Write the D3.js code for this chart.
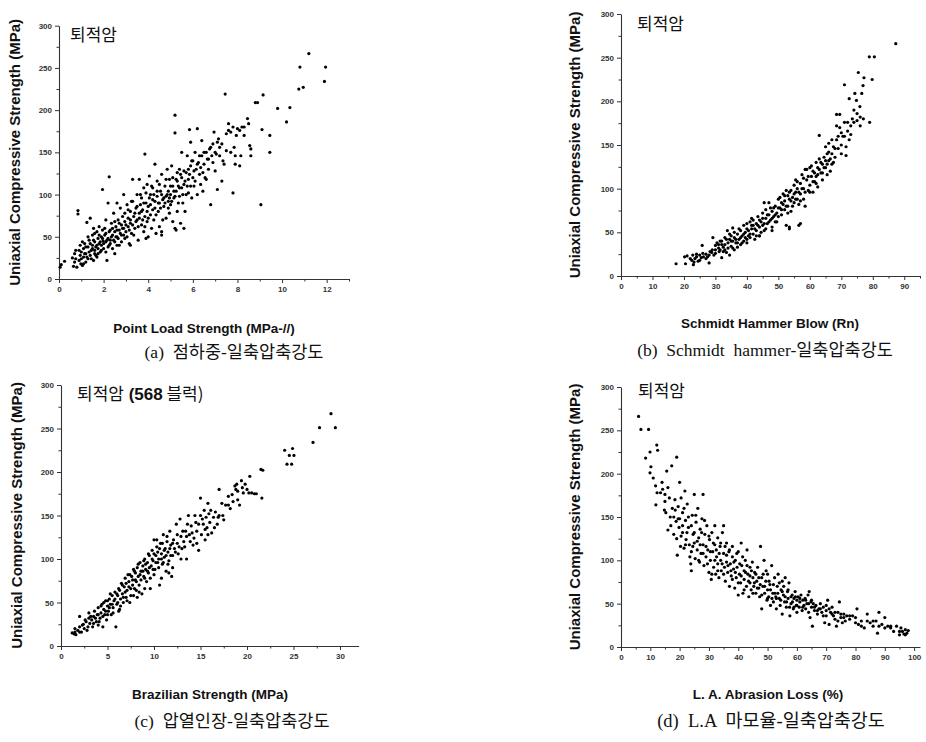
<!DOCTYPE html>
<html>
<head>
<meta charset="utf-8">
<script src="https://cdn.jsdelivr.net/npm/d3@7"></script>
<style>
  body { margin: 0; background: #fff; }
  svg { display: block; }
</style>
</head>
<body>
<svg id="chart" width="926" height="742"></svg>
<script>
// values: [x, UCS (MPa)]
const pointLoad = [
  [0.05,14],[0.1,17],[0.25,21],[0.6,25],[0.65,15],[0.7,30],[0.75,34],[0.8,14],[0.85,81],[0.85,77],[0.9,22],[0.95,28],[0.95,40],[0.98,18],
  [1.0,32],[1.05,16],[1.1,36],[1.1,26],[1.15,42],[1.2,20],[1.2,30],[1.25,67],[1.3,24],[1.3,38],[1.35,46],[1.4,72],[1.4,28],[1.45,34],[1.5,52],[1.5,40],[1.55,22],[1.55,60],[1.6,44],[1.6,30],[1.65,38],[1.7,56],[1.7,26],[1.75,48],[1.75,36],[1.8,42],[1.8,62],[1.85,32],[1.9,50],[1.9,40],[1.95,106],[1.95,58],[1.98,45],
  [2.0,36],[2.05,52],[2.1,44],[2.1,70],[2.15,22],[2.2,48],[2.2,90],[2.25,121],[2.25,40],[2.3,58],[2.3,46],[2.35,66],[2.4,52],[2.4,36],[2.45,78],[2.5,56],[2.5,44],[2.55,62],[2.6,50],[2.6,90],[2.65,70],[2.7,58],[2.7,40],[2.75,84],[2.8,64],[2.8,52],[2.85,74],[2.9,60],[2.9,100],[2.95,48],[2.95,68],
  [3.0,56],[3.05,88],[3.1,72],[3.1,62],[3.15,42],[3.2,80],[3.2,66],[3.25,54],[3.3,118],[3.3,92],[3.35,74],[3.4,60],[3.45,84],[3.5,100],[3.5,70],[3.55,46],[3.6,78],[3.6,118],[3.65,88],[3.7,64],[3.7,96],[3.75,82],[3.8,56],[3.8,108],[3.85,148],[3.85,74],[3.9,90],[3.9,48],[3.95,68],[3.95,112],
  [4.0,86],[4.05,122],[4.1,100],[4.1,76],[4.15,60],[4.2,94],[4.2,108],[4.25,70],[4.3,136],[4.3,84],[4.35,54],[4.4,98],[4.4,116],[4.45,80],[4.5,90],[4.5,62],[4.55,104],[4.6,124],[4.6,52],[4.65,94],[4.7,86],[4.75,110],[4.8,98],[4.8,72],[4.85,130],[4.9,92],[4.9,104],[4.95,78],[4.95,118],
  [5.0,100],[5.0,88],[5.05,134],[5.1,110],[5.1,68],[5.15,96],[5.2,194],[5.2,173],[5.2,60],[5.25,104],[5.3,126],[5.3,116],[5.35,90],[5.4,108],[5.4,130],[5.45,66],[5.5,120],[5.5,150],[5.55,100],[5.6,112],[5.65,80],[5.7,126],[5.75,146],[5.8,118],[5.8,102],[5.85,177],[5.9,134],[5.9,162],[5.95,96],[5.95,140],
  [6.0,120],[6.05,110],[6.1,150],[6.15,130],[6.2,178],[6.2,100],[6.25,138],[6.3,124],[6.35,112],[6.4,146],[6.4,164],[6.45,104],[6.5,136],[6.55,120],[6.6,150],[6.65,142],[6.7,130],[6.75,154],[6.8,88],[6.85,146],[6.9,160],[6.95,174],[7.0,128],
  [7.05,148],[7.1,106],[7.15,166],[7.2,156],[7.3,116],[7.35,140],[7.4,136],[7.45,219],[7.5,152],[7.6,184],[7.6,176],[7.7,174],[7.8,102],[7.85,156],[7.9,136],[7.9,146],[7.95,170],
  [8.0,178],[8.1,134],[8.15,146],[8.2,180],[8.3,180],[8.45,190],[8.5,184],[8.55,158],[8.6,154],[8.6,146],[8.8,209],[8.9,209],[9.05,88],[9.1,177],[9.15,218],
  [9.45,170],[9.45,150],[9.8,202],[10.2,186],[10.35,203],[10.75,225],[10.8,251],[10.95,227],[11.2,267],[11.9,234],[11.95,251],
  [0.7,20],[0.75,24],[0.9,34],[1.0,24],[1.05,44],[1.1,18],[1.15,30],[1.2,38],[1.25,26],[1.3,50],[1.35,32],[1.4,42],[1.45,24],[1.5,36],[1.55,46],[1.6,34],[1.6,54],[1.65,28],[1.7,40],[1.75,30],[1.8,52],[1.85,44],[1.9,34],[1.95,48],
  [2.0,42],[2.05,60],[2.1,32],[2.1,54],[2.15,46],[2.2,38],[2.25,56],[2.3,42],[2.35,50],[2.4,60],[2.45,46],[2.5,68],[2.55,50],[2.6,40],[2.6,58],[2.65,48],[2.7,66],[2.75,54],[2.8,44],[2.85,60],[2.9,52],[2.95,78],
  [3.0,64],[3.05,50],[3.1,82],[3.15,58],[3.2,70],[3.25,92],[3.3,64],[3.35,52],[3.4,78],[3.45,68],[3.5,86],[3.55,62],[3.6,72],[3.65,100],[3.7,80],[3.75,70],[3.8,90],[3.85,62],[3.9,102],[3.95,80],
  [4.0,72],[4.05,96],[4.1,88],[4.15,110],[4.2,82],[4.25,100],[4.3,92],[4.35,76],[4.4,104],[4.45,90],[4.5,112],[4.55,84],[4.6,100],[4.65,70],[4.7,96],[4.75,90],[4.8,118],[4.85,100],[4.9,84],[4.95,96],
  [5.0,110],[5.05,92],[5.1,120],[5.15,104],[5.2,98],[5.25,118],[5.3,80],[5.35,110],[5.4,98],[5.45,124],[5.5,108],[5.55,90],[5.6,128],[5.65,116],[5.7,100],[5.75,110],[5.8,130],[5.85,124],[5.9,110],
  [6.0,140],[6.05,128],[6.1,116],[6.2,136],[6.3,146],[6.35,132],[6.45,126],[6.5,150],[6.6,118],[6.7,142],[6.8,156],[6.9,138],[7.0,150],[7.1,162],[7.2,146],[7.3,160],[7.5,172],[7.7,150],[7.8,180],[8.1,176],[8.3,170],
  [5.6,60],[4.0,50],[3.2,40],[2.5,30],[4.6,56],[5.25,58]
];
const schmidt = [
  [17.5,14],[20.2,22],[20.5,14],[21,23],[22.5,18],[22.8,24],[23,13],[23.2,16],[23.5,20],[24,22],[24.5,17],[25,24],[25.5,21],[25.8,35],[26.2,22],[27,25],[27.5,22],[28,15],[28.3,28],[28.8,27],[29.2,44],[29.5,24],[30,30],[30,35],
  [30.5,38],[31,32],[31.2,28],[31.5,40],[32,21],[32,36],[32.5,33],[33,44],[33,30],[33.5,27],[33.8,52],[34,38],[34.5,42],[34.5,24],[35,34],[35,46],[35.5,40],[35.5,55],[36,30],[36,44],[36.5,38],[37,48],[37,33],[37.5,42],[38,36],[38,52],[38.5,46],[39,40],[39,58],[39.5,50],[40,38],[40,54],
  [40.5,46],[41,62],[41,44],[41.5,54],[41.5,66],[42,48],[42,58],[42.5,42],[43,60],[43,52],[43.5,68],[44,56],[44,46],[44.5,62],[45,58],[45,72],[45.5,52],[45.5,84],[46,66],[46,76],[46.5,60],[47,70],[47,84],[47.5,64],[48,74],[48,56],[48.5,68],[49,80],[49,62],[49.5,72],[50,88],[50,68],
  [50.5,78],[51,84],[51,70],[51.5,94],[52,76],[52,86],[52.5,98],[52.5,58],[53,80],[53,92],[53.5,54],[53.5,88],[54,98],[54,74],[54.5,90],[55,104],[55,84],[55.5,96],[55.5,110],[56,88],[56,100],[56.5,82],[56.5,58],[57,106],[57,94],[57.5,116],[58,100],[58,88],[58.5,122],[58.5,80],[59,110],[59.5,98],[60,104],[60,124],
  [60.5,114],[61,96],[61,120],[61.5,108],[62,130],[62,114],[62.5,102],[62.5,124],[63,161],[63,134],[63.5,118],[64,128],[64,110],[64.5,136],[65,124],[65,148],[65.5,140],[65.5,116],[66,132],[66,152],[66.5,120],[67,140],[67,156],[67.5,130],[68,146],[68.5,172],[68.5,185],[69,160],[69.5,185],[70,150],[70,140],
  [70.5,160],[71,219],[71,176],[71.5,138],[71.5,148],[72,166],[72.5,156],[72.5,203],[73,172],[73.5,180],[74,190],[74.3,209],[74.8,201],[75,178],[75.4,233],[75.9,194],[76,182],[76.5,209],[76.9,218],[77.2,227],[79,176],[78.9,251],[79.8,225],[80.5,251],[87.3,266],
  [22,20],[24,25],[25,18],[26,26],[27,20],[28,24],[29,30],[30,26],[31,36],[31.5,30],[32,40],[32.5,28],[33,36],[33.5,42],[34,32],[34.5,48],[35,40],[35.5,32],[36,50],[36.5,42],[37,38],[37.5,54],[38,44],[38.5,38],[39,48],[39.5,44],
  [40,60],[40.5,52],[41,48],[41.5,58],[42,64],[42.5,54],[43,46],[43.5,58],[44,64],[44.5,50],[45,66],[45.5,60],[46,54],[46.5,70],[47,62],[47.5,78],[48,66],[48.5,78],[49,70],[49.5,62],
  [50,78],[50.5,90],[51,76],[51.5,82],[52,92],[52.5,80],[53,72],[53.5,96],[54,86],[54.5,80],[55,94],[55.5,88],[56,108],[56.5,96],[57,86],[57.5,100],[58,112],[58.5,96],[59,122],[59.5,114],
  [60,96],[60.5,126],[61,108],[61.5,118],[62,106],[62.5,116],[63,122],[63.5,130],[64,118],[64.5,124],[65,132],[65.5,128],[66,142],[66.5,134],[67,128],[67.5,148],[68,136],[68.5,156],[69,146],[69.5,170],
  [70,164],[71,160],[72,176],[73,162],[74,176],[75,186],[76,172],[77,180],[53.5,56],[57,60],[48,52],[44,46],[40,42]
];
const brazilian = [
  [1.2,15],[1.4,14],[1.5,16],[1.6,13],[1.8,18],[2.0,34],[2.0,22],[2.2,16],[2.4,25],[2.5,20],[2.7,28],[2.8,18],[3.0,38],[3.0,32],[3.1,26],[3.3,30],[3.4,22],[3.5,34],[3.6,40],[3.8,28],[3.9,36],[4.0,44],[4.0,24],[4.2,32],[4.3,38],[4.4,48],[4.5,22],[4.6,42],[4.7,36],[4.8,52],[4.9,30],[5.0,46],
  [5.1,40],[5.2,54],[5.3,48],[5.4,36],[5.5,58],[5.6,44],[5.7,52],[5.8,62],[5.9,22],[6.0,48],[6.1,58],[6.2,66],[6.3,42],[6.4,54],[6.5,72],[6.6,60],[6.7,50],[6.8,68],[6.9,78],[7.0,56],[7.1,64],[7.2,82],[7.3,74],[7.4,50],[7.5,66],[7.6,80],[7.7,70],[7.8,58],[7.9,86],[8.0,76],[8.1,64],[8.2,90],[8.3,80],[8.4,70],[8.5,96],[8.6,86],[8.7,60],[8.8,92],[8.9,80],[9.0,100],[9.1,88],[9.2,74],[9.3,96],[9.4,84],[9.5,104],[9.6,66],[9.7,92],[9.8,110],[9.9,98],[10.0,122],
  [10.1,88],[10.2,104],[10.3,114],[10.4,96],[10.5,100],[10.6,70],[10.7,118],[10.8,106],[10.9,94],[11.0,128],[11.1,102],[11.2,112],[11.3,86],[11.4,120],[11.5,108],[11.6,98],[11.7,132],[11.8,116],[11.9,80],[12.0,104],[12.1,122],[12.2,112],[12.4,140],[12.5,118],[12.6,106],[12.8,146],[12.9,126],[13.0,112],[13.2,120],[13.4,132],[13.5,100],[13.7,150],[13.8,128],[14.0,138],[14.2,116],[14.3,124],[14.5,142],[14.6,132],[14.8,110],[15.0,170],[15.0,150],[15.1,128],
  [15.3,140],[15.4,156],[15.5,122],[15.6,148],[15.7,136],[15.8,164],[15.9,152],[16.0,142],[16.2,130],[16.4,148],[16.6,154],[16.8,140],[17.0,180],[17.0,150],[17.3,164],[17.5,145],[17.7,162],[18.0,172],[18.2,158],[18.5,166],[18.7,184],[18.9,186],[19.0,178],[19.2,162],[19.4,190],[19.6,176],[19.8,186],[20.0,180],[20.3,195],[20.5,176],[20.8,175],[21.0,175],[21.5,203],[21.6,170],[21.7,202],
  [24.05,225],[24.3,209],[24.55,219],[24.8,209],[24.9,227],[25.05,219],[27.1,234],[27.8,251],[29.03,267],[29.5,251],
  [1.5,20],[2.0,16],[2.3,24],[2.6,30],[2.9,22],[3.2,34],[3.5,26],[3.7,32],[4.0,36],[4.1,28],[4.3,46],[4.5,34],[4.6,50],[4.8,40],[5.0,36],[5.0,52],[5.2,44],[5.3,60],[5.5,48],[5.6,38],[5.8,54],
  [6.0,60],[6.1,50],[6.3,64],[6.4,46],[6.6,70],[6.7,56],[6.9,62],[7.0,72],[7.1,52],[7.3,68],[7.4,82],[7.5,58],[7.7,76],[7.8,88],[7.9,66],[8.0,84],[8.1,74],[8.3,94],[8.4,62],[8.5,82],[8.6,76],[8.8,86],[8.9,98],[9.0,78],[9.1,94],[9.3,86],[9.4,106],[9.5,90],[9.6,78],[9.8,100],[9.9,88],
  [10.0,106],[10.0,82],[10.2,96],[10.3,122],[10.4,108],[10.5,90],[10.6,112],[10.8,100],[10.9,118],[11.0,96],[11.1,110],[11.3,104],[11.4,126],[11.5,94],[11.7,112],[11.8,104],[12.0,118],[12.0,90],[12.3,108],[12.5,128],[12.7,114],[12.9,100],
  [13.1,132],[13.3,114],[13.5,126],[13.6,140],[13.9,120],[14.1,130],[14.4,150],[14.6,118],[14.8,140],[15.2,146],[15.5,134],[15.8,128],[16.1,156],[16.5,136],[16.9,148],[17.4,150],[18.0,162],[18.4,174],[18.8,180],[19.0,168],[19.5,182],[20.2,176],
  [8.2,56],[9.0,66],[10.8,78],[11.6,84],[6.2,40]
];
const abrasion = [
  [6.0,266],[6.8,251],[9.4,251],[8.4,218],[9.9,225],[12.2,233],[12.5,227],[10.2,208],[9.9,201],[11.0,195],[11.8,186],[12.3,178],[11.9,164],[13.5,178],[14.2,182],[14.8,158],[15.0,176],[15.3,155],[15.6,203],[16,184],[16,135],[16.5,172],[17,140],[17.3,209],[17.5,160],[18,150],[18.4,170],[18.8,145],[19,219],[19,125],[19.2,106],[19.5,162],[19.8,138],[20,190],[20,148],[20.3,116],
  [20.5,172],[21,132],[21,155],[21.5,114],[21.8,180],[22,146],[22.2,124],[22.6,165],[23,138],[23.3,118],[23.8,96],[24,110],[24,88],[24.3,152],[24.6,130],[25,176],[25,120],[25.3,102],[25.6,144],[26,112],[26.2,160],[26.5,126],[26.8,98],[27,136],[27.3,108],[27.6,148],[28,176],[28,118],[28.3,94],[28.6,130],[29,104],[29.3,140],[29.6,112],[30,86],
  [30.2,124],[30.5,100],[30.8,78],[31,132],[31.3,110],[31.6,92],[32,140],[32,118],[32.3,84],[32.6,104],[33,126],[33,96],[33.4,80],[33.8,116],[34,100],[34.2,88],[34.6,132],[35,108],[35,140],[35.3,92],[35.6,76],[36,120],[36,98],[36.4,86],[36.8,110],[37,70],[37.3,96],[37.6,82],[38,116],[38,104],[38.4,90],[38.8,68],[39,100],[39.3,80],[39.6,92],[40,60],[40,110],
  [40.4,84],[40.8,74],[41,120],[41.2,94],[41.6,62],[42,88],[42,78],[42.4,100],[42.8,70],[43,112],[43.3,84],[43.6,58],[44,92],[44,74],[44.4,66],[44.8,98],[45,80],[45.3,70],[45.6,86],[46,62],[46.3,76],[46.6,92],[47,68],[47.3,58],[47.6,116],[48,80],[48,44],[48.4,70],[48.8,100],[49,62],[49.4,76],[49.8,54],[50,84],[50,66],
  [50.4,58],[50.8,72],[51,48],[51.4,94],[51.8,62],[52,52],[52.4,80],[52.8,58],[53,44],[53.3,70],[53.6,84],[54,56],[54.3,48],[54.6,66],[55,76],[55,38],[55.4,60],[55.8,52],[56,80],[56.4,46],[56.8,64],[57,56],[57.3,74],[57.6,36],[58,50],[58.4,60],[58.8,44],[59,56],[59.4,64],[59.8,48],[60,54],[60,40],
  [60.4,58],[60.8,46],[61,52],[61.4,60],[61.8,42],[62,54],[62.4,48],[62.8,56],[63,44],[63.4,50],[63.8,60],[64,40],[64.2,64],[64.5,34],[64.8,52],[65,46],[65.3,24],[65.6,50],[66,42],[66.5,48],[67,38],[67.5,44],[68,50],[68.5,40],[69,46],[69.5,28],[70,42],[70.5,54],[70,36],
  [71,26],[71.5,40],[72,46],[72.5,36],[73,32],[73.5,24],[74,40],[74.5,52],[75,34],[75.5,28],[76,38],[76.5,30],[77,36],[78,32],[79,36],[80,28],[80.5,44],[81,26],[82,30],[83,22],[84,38],[85,28],[86,24],[87,30],[87.5,16],[88,40],[89,26],[90,34],[91,24],[92,22],[93,18],[94,24],[95,14],[95.5,22],[96,18],[96.5,15],[97,20],[97.5,16],[98,19],
  [14,190],[15,168],[16.8,150],[18,130],[18.5,158],[19.5,148],[20.5,128],[21,140],[21.5,160],[22,118],[22.5,132],[23,150],[23.5,104],[24,140],[24.5,116],[25,132],[25.5,152],[26,122],[26.5,100],[27,118],[27.5,132],[28,108],[28.5,146],[29,116],[29.5,96],
  [30,128],[30.5,110],[31,84],[31.5,120],[32,100],[32.5,112],[33,88],[33.5,108],[34,120],[34.5,96],[35,84],[35.5,116],[36,106],[36.5,94],[37,112],[37.5,88],[38,78],[38.5,98],[39,86],[39.5,108],
  [40,74],[40.5,96],[41,82],[41.5,104],[42,66],[42.5,86],[43,94],[43.5,76],[44,82],[44.5,88],[45,62],[45.5,74],[46,84],[46.5,68],[47,80],[47.5,72],[48,60],[48.5,84],[49,70],[49.5,88],
  [50,56],[50.5,76],[51,66],[51.5,56],[52,72],[52.5,62],[53,56],[53.5,62],[54,74],[54.5,54],[55,64],[55.5,70],[56,58],[56.5,52],[57,66],[57.5,46],[58,58],[58.5,52],[59,46],[59.5,58],
  [60,48],[61,56],[62,46],[63,54],[64,50],[65,54],[66,46],[67,42],[68,44],[69,36],[70,48],[71,44],[72,38],[73,40],[74,30],[75,38],[76,34],[78,36],[80,34],[82,24],[84,30],[86,30],[88,24],[90,22],[92,24],[95,18],[97,14]
];

const yTicks = [0, 50, 100, 150, 200, 250, 300];
const yMinor = [25, 75, 125, 175, 225, 275];
const ticksA = [0, 2, 4, 6, 8, 10, 12];
const ticksB = [0, 10, 20, 30, 40, 50, 60, 70, 80, 90];
const ticksC = [0, 5, 10, 15, 20, 25, 30];
const ticksD = [0, 10, 20, 30, 40, 50, 60, 70, 80, 90, 100];

const yTitle = "Uniaxial Compressive Strength (MPa)";

// layout of the four panels (pixel positions)
const panels = [
  { data: pointLoad, xMax: 13, ticks: ticksA, minor: [1,3,5,7,9,11,13],
    left: 59, right: 349, top: 25.7, bottom: 279,
    xTitle: "Point Load Strength (MPa-//)", xTitleX: 204, xTitleY: 333,
    yTitleX: 20, label: "퇴적암", labelX: 70, labelY: 41,
    caption: "(a)  점하중-일축압축강도", capX: 234, capY: 358, capSize: 17.5 },
  { data: schmidt, xMax: 95, ticks: ticksB, minor: [5,15,25,35,45,55,65,75,85,95],
    left: 621, right: 920, top: 14, bottom: 276,
    xTitle: "Schmidt Hammer Blow (Rn)", xTitleX: 770, xTitleY: 328,
    yTitleX: 580, label: "퇴적암", labelX: 637, labelY: 30,
    caption: "(b)  Schmidt  hammer-일축압축강도", capX: 765, capY: 356, capSize: 17.5 },
  { data: brazilian, xMax: 32, ticks: ticksC, minor: [2.5,7.5,12.5,17.5,22.5,27.5],
    left: 61, right: 358.6, top: 385, bottom: 646,
    xTitle: "Brazilian Strength (MPa)", xTitleX: 210, xTitleY: 699,
    yTitleX: 22, label: "퇴적암", labelBold: " (568", labelTail: " 블럭)", labelX: 77, labelY: 400,
    caption: "(c)  압열인장-일축압축강도", capX: 232, capY: 727, capSize: 17.5 },
  { data: abrasion, xMax: 102, ticks: ticksD, minor: [5,15,25,35,45,55,65,75,85,95],
    left: 621, right: 920, top: 387, bottom: 647,
    xTitle: "L. A. Abrasion Loss (%)", xTitleX: 768, xTitleY: 699,
    yTitleX: 580, label: "퇴적암", labelX: 638, labelY: 397,
    caption: "(d)  L.A  마모율-일축압축강도", capX: 771, capY: 727, capSize: 18.5 }
];

const svg = d3.select("#chart");
const SANS = "'Liberation Sans', Arial, sans-serif";
const KOR = "'Noto Sans CJK KR', 'Noto Sans', sans-serif";
const SERIF = "'Liberation Serif', 'Times New Roman', 'Noto Sans CJK KR', serif";

panels.forEach(function (p) {
  const x = d3.scaleLinear().domain([0, p.xMax]).range([p.left, p.right]);
  const y = d3.scaleLinear().domain([0, 300]).range([p.bottom, p.top]);
  const g = svg.append("g");

  // x axis + minor ticks
  g.append("g").attr("transform", `translate(0,${p.bottom})`)
    .call(d3.axisBottom(x).tickValues(p.ticks).tickSize(4).tickSizeOuter(0).tickPadding(3));
  g.append("g").attr("transform", `translate(0,${p.bottom})`)
    .call(d3.axisBottom(x).tickValues(p.minor).tickSize(2.5).tickFormat(""))
    .select(".domain").remove();

  // y axis + minor ticks
  g.append("g").attr("transform", `translate(${p.left},0)`)
    .call(d3.axisLeft(y).tickValues(yTicks).tickSize(4).tickSizeOuter(0).tickPadding(3));
  g.append("g").attr("transform", `translate(${p.left},0)`)
    .call(d3.axisLeft(y).tickValues(yMinor).tickSize(2.5).tickFormat(""))
    .select(".domain").remove();

  g.selectAll(".domain").attr("stroke", "#333").attr("stroke-width", 1.1);
  g.selectAll(".tick line").attr("stroke", "#333");
  g.selectAll(".tick text")
    .attr("font-family", SANS).attr("font-size", 8).attr("font-weight", "bold").attr("fill", "#333");

  // points
  g.append("g").selectAll("circle")
    .data(p.data)
    .join("circle")
    .attr("cx", d => x(d[0]))
    .attr("cy", d => y(d[1]))
    .attr("r", 1.6)
    .attr("fill", "#000");

  // axis titles
  g.append("text")
    .attr("x", p.xTitleX).attr("y", p.xTitleY)
    .attr("text-anchor", "middle")
    .attr("font-family", SANS).attr("font-size", 13.5).attr("font-weight", "bold")
    .attr("fill", "#111")
    .text(p.xTitle);

  g.append("text")
    .attr("transform", `translate(${p.yTitleX},${(p.top + p.bottom) / 2}) rotate(-90)`)
    .attr("text-anchor", "middle")
    .attr("font-family", SANS).attr("font-size", 15).attr("font-weight", "bold")
    .attr("fill", "#111")
    .text(yTitle);

  // label inside the plot
  const lab = g.append("text")
    .attr("x", p.labelX).attr("y", p.labelY)
    .attr("font-family", KOR).attr("font-size", 17).attr("fill", "#111");
  lab.append("tspan").text(p.label);
  if (p.labelBold) {
    lab.append("tspan").attr("font-family", SANS).attr("font-weight", "bold").text(p.labelBold);
    lab.append("tspan").text(p.labelTail);
  }

  // caption under the panel
  g.append("text")
    .attr("x", p.capX).attr("y", p.capY)
    .attr("text-anchor", "middle")
    .attr("font-family", SERIF).attr("font-size", p.capSize).attr("fill", "#111")
    .style("white-space", "pre")
    .text(p.caption);
});
</script>
</body>
</html>
